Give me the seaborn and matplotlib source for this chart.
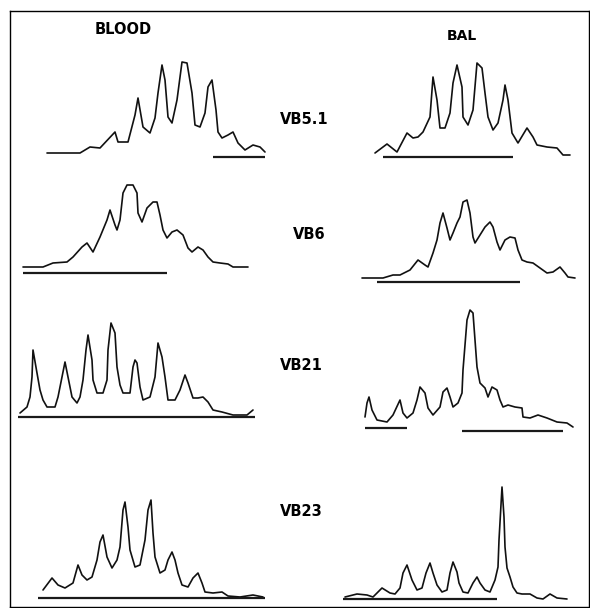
import matplotlib
matplotlib.use("Agg")
import matplotlib.pyplot as plt
import seaborn as sns
import pandas as pd

sns.set_theme(style="white")
plt.rcParams['font.family'] = ['DejaVu Sans']
plt.rcParams['text.color'] = 'black'

columns = ["BLOOD", "BAL"]
families = ["VB5.1", "VB6", "VB21", "VB23"]

blood_vb51_x = [2, 35, 45, 55, 70, 73, 83, 90, 93, 98, 105, 110, 113, 117, 120, 123, 127, 132, 137, 142, 147, 150, 155, 160, 163, 167, 171, 173, 177, 183, 188, 193, 200, 208, 215, 220]
blood_vb51_y = [0, 0, 6, 5, 21, 11, 11, 38, 55, 26, 20, 35, 60, 88, 73, 36, 30, 53, 91, 90, 60, 28, 26, 40, 66, 73, 43, 21, 15, 18, 21, 10, 3, 8, 6, 1]
blood_vb51_bar = [[168, 220, -4]]

bal_vb51_x = [15, 27, 37, 47, 53, 58, 63, 70, 73, 77, 80, 85, 90, 93, 97, 102, 103, 108, 113, 117, 122, 125, 128, 133, 138, 143, 145, 148, 152, 158, 167, 173, 177, 187, 197, 203, 210]
bal_vb51_y = [0, 9, 1, 20, 15, 16, 21, 36, 76, 53, 25, 25, 40, 70, 88, 66, 36, 28, 43, 90, 85, 60, 36, 23, 30, 53, 68, 53, 20, 10, 25, 16, 8, 6, 5, -2, -2]
bal_vb51_bar = [[23, 153, -4]]

blood_vb6_x = [3, 23, 33, 47, 53, 62, 67, 73, 80, 87, 90, 95, 97, 100, 103, 107, 113, 117, 118, 122, 127, 133, 137, 140, 143, 147, 152, 157, 163, 168, 172, 178, 183, 188, 193, 200, 208, 213, 220, 228]
blood_vb6_y = [0, 0, 4, 5, 10, 20, 24, 15, 30, 47, 57, 42, 37, 47, 74, 82, 82, 74, 54, 45, 59, 65, 65, 52, 37, 29, 35, 37, 32, 19, 15, 20, 17, 10, 5, 4, 3, 0, 0, 0]
blood_vb6_bar = [[3, 147, -6]]

bal_vb6_x = [2, 23, 33, 40, 50, 58, 65, 68, 73, 77, 80, 83, 87, 90, 93, 97, 100, 103, 107, 110, 113, 115, 120, 125, 130, 133, 137, 140, 145, 150, 155, 158, 162, 167, 173, 180, 187, 193, 200, 205, 208, 215]
bal_vb6_y = [0, 0, 3, 3, 8, 18, 13, 11, 25, 38, 55, 65, 50, 38, 45, 55, 61, 76, 78, 65, 41, 35, 43, 51, 56, 51, 36, 28, 38, 41, 40, 28, 18, 16, 15, 10, 5, 6, 11, 5, 1, 0]
bal_vb6_bar = [[17, 160, -4]]

blood_vb21_x = [2, 9, 12, 14, 15, 19, 22, 25, 29, 37, 40, 44, 47, 50, 54, 59, 62, 65, 68, 70, 74, 75, 79, 85, 89, 90, 93, 97, 99, 102, 105, 112, 115, 117, 119, 122, 125, 132, 137, 140, 144, 147, 150, 157, 162, 167, 170, 175, 180, 185, 190, 195, 204, 215, 229, 235]
blood_vb21_y = [2, 8, 18, 38, 65, 42, 25, 15, 8, 8, 18, 38, 53, 38, 18, 12, 18, 35, 65, 80, 55, 35, 22, 22, 35, 65, 92, 82, 48, 30, 22, 22, 48, 55, 52, 28, 15, 18, 38, 72, 58, 38, 15, 15, 25, 40, 32, 17, 17, 18, 13, 5, 3, 0, 0, 5]
blood_vb21_bar = [[0, 237, -2]]

bal_vb21_x = [2, 4, 6, 9, 14, 24, 30, 37, 40, 44, 50, 54, 57, 62, 65, 70, 77, 80, 84, 87, 90, 95, 99, 100, 104, 107, 110, 112, 114, 117, 122, 125, 129, 134, 137, 140, 145, 152, 159, 160, 167, 175, 184, 194, 204, 210]
bal_vb21_y = [3, 17, 23, 10, 0, -2, 5, 20, 7, 2, 7, 20, 33, 27, 12, 5, 13, 28, 32, 23, 13, 17, 27, 50, 100, 110, 107, 80, 53, 37, 32, 23, 33, 30, 20, 13, 15, 13, 12, 3, 2, 5, 2, -2, -3, -7]
bal_vb21_bar = [[2, 44, -8], [99, 200, -11]]

blood_vb23_x = [5, 14, 20, 27, 35, 40, 44, 49, 54, 59, 62, 65, 69, 74, 79, 82, 85, 87, 90, 92, 97, 102, 107, 110, 113, 115, 117, 122, 127, 130, 134, 137, 140, 144, 150, 155, 160, 164, 167, 175, 184, 190, 202, 215, 225]
blood_vb23_y = [7, 19, 12, 9, 14, 32, 22, 17, 20, 37, 55, 62, 40, 29, 37, 50, 87, 95, 70, 47, 30, 32, 57, 87, 97, 64, 40, 24, 27, 37, 45, 37, 24, 12, 10, 19, 24, 14, 5, 4, 5, 1, 0, 2, 0]
blood_vb23_bar = [[0, 227, -1]]

bal_vb23_x = [2, 14, 24, 30, 39, 47, 52, 57, 60, 64, 69, 74, 79, 83, 87, 90, 94, 99, 104, 107, 110, 114, 116, 120, 125, 130, 134, 137, 142, 147, 152, 155, 156, 159, 161, 162, 164, 167, 170, 174, 179, 187, 194, 200, 207, 214, 224]
bal_vb23_y = [0, 3, 2, 0, 9, 4, 3, 9, 24, 32, 17, 7, 9, 24, 34, 24, 12, 5, 7, 24, 35, 25, 14, 5, 4, 14, 20, 14, 7, 5, 17, 30, 57, 110, 80, 50, 29, 20, 10, 4, 3, 3, -1, -2, 3, -1, -2]
bal_vb23_bar = [[0, 154, -2]]

traces = {
    ("BLOOD", "VB5.1"): (blood_vb51_x, blood_vb51_y, blood_vb51_bar),
    ("BAL", "VB5.1"): (bal_vb51_x, bal_vb51_y, bal_vb51_bar),
    ("BLOOD", "VB6"): (blood_vb6_x, blood_vb6_y, blood_vb6_bar),
    ("BAL", "VB6"): (bal_vb6_x, bal_vb6_y, bal_vb6_bar),
    ("BLOOD", "VB21"): (blood_vb21_x, blood_vb21_y, blood_vb21_bar),
    ("BAL", "VB21"): (bal_vb21_x, bal_vb21_y, bal_vb21_bar),
    ("BLOOD", "VB23"): (blood_vb23_x, blood_vb23_y, blood_vb23_bar),
    ("BAL", "VB23"): (bal_vb23_x, bal_vb23_y, bal_vb23_bar),
}

# ---- layout (pixels) ----
W, H = 590, 608
fig = plt.figure(figsize=(W / 100, H / 100), dpi=100)
fig.patch.set_facecolor("white")

# frame
frame = fig.add_axes([10 / W, 1 - 607 / H, 579 / W, 596 / H])
frame.set_xticks([]); frame.set_yticks([])
frame.set_facecolor("white")
for s in frame.spines.values():
    s.set_visible(True); s.set_color("black"); s.set_linewidth(1.0)

# panel anchors: (left px, baseline px)
anchors = {
    ("BLOOD", "VB5.1"): (45, 153), ("BAL", "VB5.1"): (360, 153),
    ("BLOOD", "VB6"): (20, 267), ("BAL", "VB6"): (360, 278),
    ("BLOOD", "VB21"): (18, 415), ("BAL", "VB21"): (363, 420),
    ("BLOOD", "VB23"): (38, 597), ("BAL", "VB23"): (343, 597),
}
PW, UP, DOWN = 245, 125, 15

for key, (xs, ys, bars) in traces.items():
    left, base = anchors[key]
    ax = fig.add_axes([left / W, 1 - (base + DOWN) / H, PW / W, (UP + DOWN) / H])
    ax.patch.set_alpha(0)
    df = pd.DataFrame({"pos": xs, "intensity": ys})
    sns.lineplot(data=df, x="pos", y="intensity", ax=ax, color="#111111",
                 lw=1.2, sort=False, estimator=None)
    for x0, x1, yb in bars:
        ax.plot([x0, x1], [yb, yb], color="#1a1a1a", lw=1.6, solid_capstyle="butt")
    ax.set_xlim(0, PW)
    ax.set_ylim(-DOWN, UP)
    ax.set_axis_off()

# titles and family labels
fig.text(123 / W, 1 - 30 / H, "BLOOD", ha="center", va="center",
         fontsize=10.5, fontweight="bold", color="black")
fig.text(462 / W, 1 - 36 / H, "BAL", ha="center", va="center",
         fontsize=10, fontweight="bold", color="black")
label_pos = {"VB5.1": (280, 119), "VB6": (293, 234), "VB21": (280, 366), "VB23": (280, 511)}
for fam in families:
    x, y = label_pos[fam]
    fig.text(x / W, 1 - y / H, fam, ha="left", va="center",
             fontsize=10.5, fontweight="bold", color="black")

fig.savefig("out.png", dpi=100, facecolor="white")
